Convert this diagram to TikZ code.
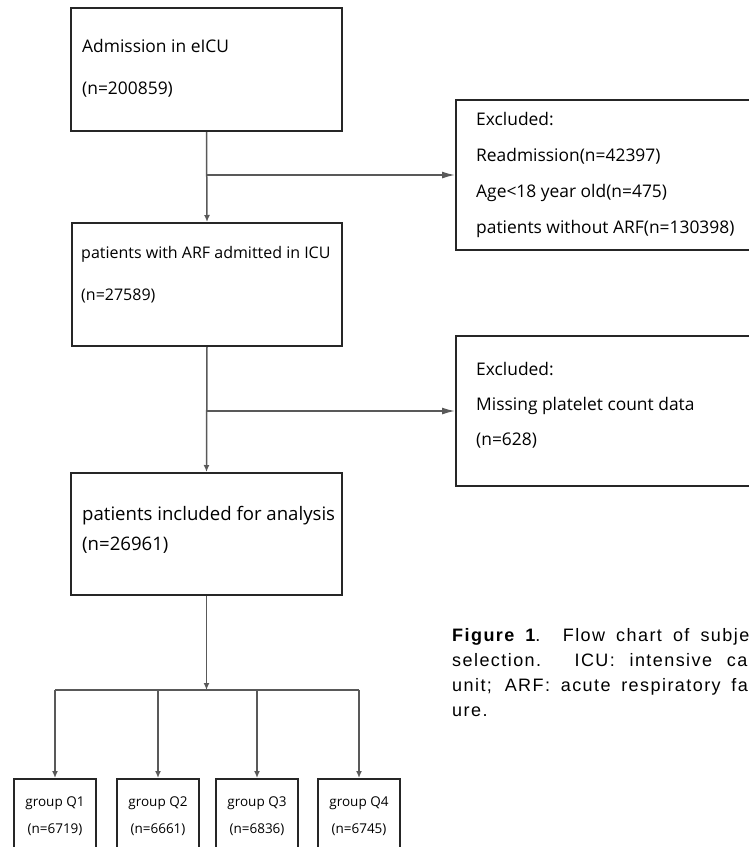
\documentclass[tikz,border=0pt]{standalone}
\usepackage{fontspec}
\setmainfont{Open Sans}
\newfontfamily\capfont[LetterSpace=8]{Liberation Sans}
\usetikzlibrary{arrows.meta}

\begin{document}
\begin{tikzpicture}[x=1pt, y=-1pt,
    box/.style={draw=black!85, line width=2pt, anchor=north west, inner sep=0pt},
    link/.style={draw=black!65, line width=1.5pt},
    down/.style={link, -{Latex[length=7pt,width=6pt]}},
    side/.style={link, -{Latex[length=13pt,width=7pt]}},
    txt/.style={anchor=base west, inner sep=0pt, font=\fontsize{17.4}{20}\selectfont},
    smalltxt/.style={txt, font=\fontsize{16}{19}\selectfont},
    bigtxt/.style={txt, font=\fontsize{18.6}{22}\selectfont},
    gtxt/.style={anchor=base, inner sep=0pt, font=\fontsize{13.5}{16}\selectfont},
    captxt/.style={anchor=base west, inner sep=0pt, font=\capfont\fontsize{18}{20}\selectfont}]
    \useasboundingbox (0,0) rectangle (748,847);
    % Main boxes
    \node[box, minimum width=271pt, minimum height=123pt] (adm) at (70,7) {};
    \node[box, minimum width=270pt, minimum height=123pt] (arf) at (71,222) {};
    \node[box, minimum width=271pt, minimum height=122pt] (incl) at (70,472) {};
    % Exclusion boxes
    \node[box, minimum width=320pt, minimum height=150pt] (exa) at (455,99) {};
    \node[box, minimum width=320pt, minimum height=150pt] (exb) at (455,335) {};
    % Group boxes
    \foreach \n/\x in {1/13,2/116,3/215,4/317}
        \node[box, minimum width=82pt, minimum height=90pt] (q\n) at (\x,778) {};
    % Texts
    \node[txt] (admA) at (82,52) {Admission in eICU};
    \node[txt] (admB) at (82,94) {(n=200859)};
    \node[smalltxt] (arfA) at (81,258) {patients with ARF admitted in ICU};
    \node[smalltxt] (arfB) at (81,300) {(n=27589)};
    \node[bigtxt] (inclA) at (82,520) {patients included for analysis};
    \node[bigtxt] (inclB) at (82,550) {(n=26961)};
    \node[txt] (exaA) at (476,125) {Excluded:};
    \node[txt] (exaB) at (476,161) {Readmission(n=42397)};
    \node[txt] (exaC) at (476,197) {Age<18 year old(n=475)};
    \node[txt] (exaD) at (476,233) {patients without ARF(n=130398)};
    \node[txt] (exbA) at (476,375) {Excluded:};
    \node[txt] (exbB) at (476,410) {Missing platelet count data};
    \node[txt] (exbC) at (476,445) {(n=628)};
    \foreach \n/\m in {1/6719,2/6661,3/6836,4/6745} {
        \node[gtxt] (q\n A) at ([yshift=-28pt]q\n.north) {group Q\n};
        \node[gtxt] (q\n B) at ([yshift=-55pt]q\n.north) {(n=\m)};
    }
    % Arrows
    \draw[down] (adm.south) -- (arf.north);
    \draw[side] (adm.south |- exa.west) -- (exa.west);
    \draw[down] (arf.south) -- (incl.north);
    \draw[side] (arf.south |- exb.west) -- (exb.west);
    \coordinate (split) at ([yshift=-94pt]incl.south);
    \draw[down] (incl.south) -- (split);
    \draw[link] (q1.north |- split) -- (q4.north |- split);
    \foreach \n in {1,...,4}
        \draw[down] (q\n.north |- split) -- (q\n.north);
    % Caption
    \node[captxt] (capA) at (452,641) {\makebox[314pt][s]{\textbf{Figure 1}. Flow chart of subject}};
    \node[captxt] (capB) at (452,666) {\makebox[314pt][s]{selection. ICU: intensive care}};
    \node[captxt] (capC) at (452,691) {\makebox[314pt][s]{unit; ARF: acute respiratory fail-}};
    \node[captxt] (capD) at (452,716) {ure.};
\end{tikzpicture}
\end{document}
